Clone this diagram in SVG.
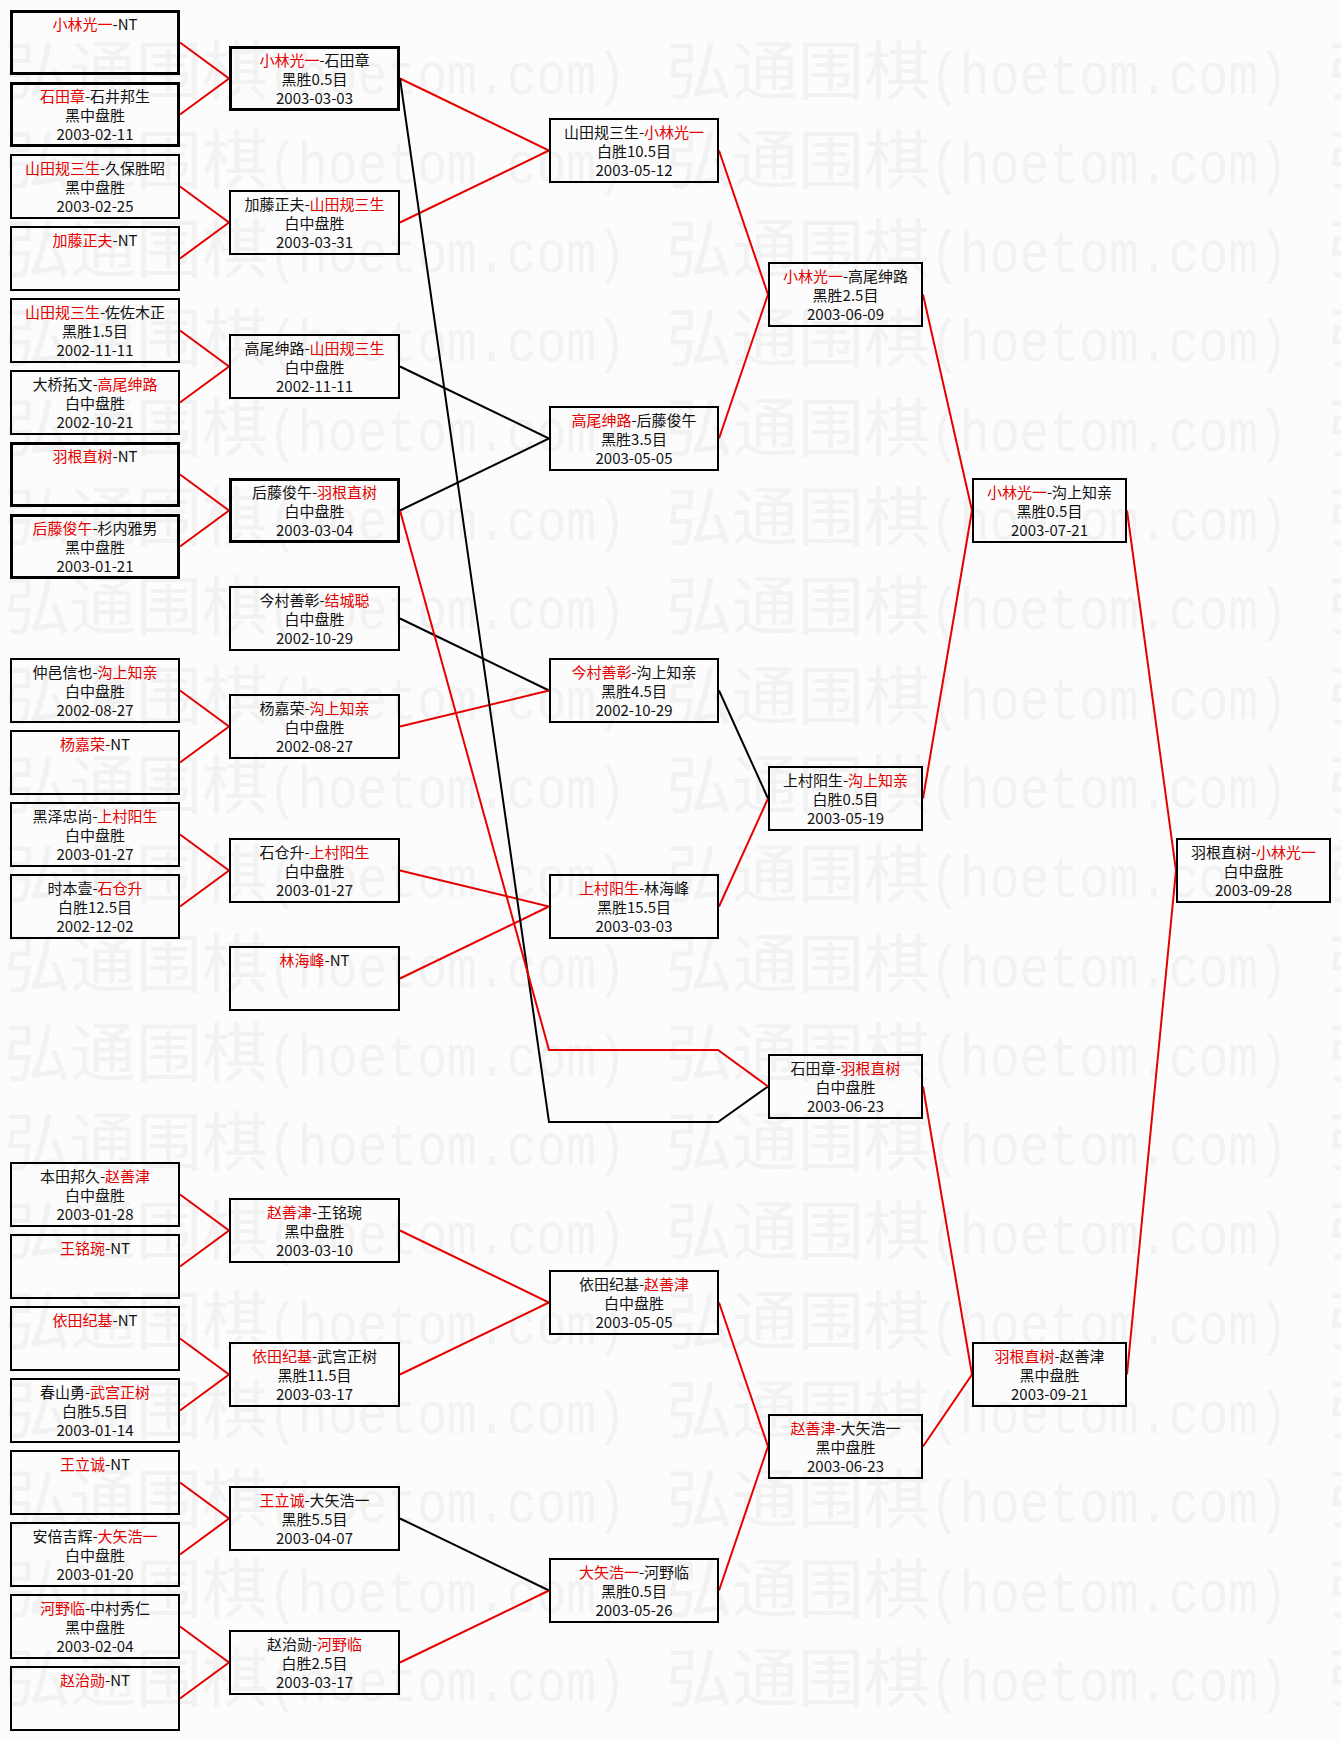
<svg xmlns="http://www.w3.org/2000/svg" xmlns:xlink="http://www.w3.org/1999/xlink" width="1341" height="1741" viewBox="0 0 1341 1741">
<style>
.bg{fill:#fcfcfc}
.wc{font-family:"Noto Sans CJK SC",sans-serif;font-size:64px;fill:#f2f2f2}
.wl{font-family:"Liberation Mono",monospace;font-size:60px;fill:#f2f2f2}
.b{fill:none;stroke:#000;stroke-width:2}
.bt{fill:none;stroke:#000;stroke-width:3}
.t{font-family:"Noto Sans CJK SC",sans-serif;font-size:15px;fill:#111;text-anchor:middle}
.r{fill:#e40000}
.lr{fill:none;stroke:#e60000;stroke-width:2}
.lk{fill:none;stroke:#000;stroke-width:2}
</style>
<defs>
<g id="wmrow">
<text class="wc" x="4" y="93.5" textLength="264" lengthAdjust="spacingAndGlyphs">弘通围棋</text>
<text class="wl" x="268" y="93.5" textLength="358" lengthAdjust="spacingAndGlyphs">(hoetom.com)</text>
<text class="wc" x="666" y="93.5" textLength="264" lengthAdjust="spacingAndGlyphs">弘通围棋</text>
<text class="wl" x="930" y="93.5" textLength="358" lengthAdjust="spacingAndGlyphs">(hoetom.com)</text>
<text class="wc" x="1328" y="93.5">弘</text>
</g>
</defs>
<rect class="bg" x="0" y="0" width="1341" height="1741"/>
<g id="watermark">
<use xlink:href="#wmrow" y="0"/>
<use xlink:href="#wmrow" y="89.3"/>
<use xlink:href="#wmrow" y="178.6"/>
<use xlink:href="#wmrow" y="267.9"/>
<use xlink:href="#wmrow" y="357.2"/>
<use xlink:href="#wmrow" y="446.5"/>
<use xlink:href="#wmrow" y="535.8"/>
<use xlink:href="#wmrow" y="625.1"/>
<use xlink:href="#wmrow" y="714.4"/>
<use xlink:href="#wmrow" y="803.7"/>
<use xlink:href="#wmrow" y="893"/>
<use xlink:href="#wmrow" y="982.3"/>
<use xlink:href="#wmrow" y="1071.6"/>
<use xlink:href="#wmrow" y="1160.9"/>
<use xlink:href="#wmrow" y="1250.2"/>
<use xlink:href="#wmrow" y="1339.5"/>
<use xlink:href="#wmrow" y="1428.8"/>
<use xlink:href="#wmrow" y="1518.1"/>
<use xlink:href="#wmrow" y="1607.4"/>
</g>
<g id="connectors">
<path class="lr" d="M180 42.5L229 78.5L180 114.5"/>
<path class="lr" d="M180 186.5L229 222.5L180 258.5"/>
<path class="lr" d="M180 330.5L229 366.5L180 402.5"/>
<path class="lr" d="M180 474.5L229 510.5L180 546.5"/>
<path class="lr" d="M180 690.5L229 726.5L180 762.5"/>
<path class="lr" d="M180 834.5L229 870.5L180 906.5"/>
<path class="lr" d="M180 1194.5L229 1230.5L180 1266.5"/>
<path class="lr" d="M180 1338.5L229 1374.5L180 1410.5"/>
<path class="lr" d="M180 1482.5L229 1518.5L180 1554.5"/>
<path class="lr" d="M180 1626.5L229 1662.5L180 1698.5"/>
<path class="lr" d="M400 78.5L549 150.5L400 222.5"/>
<path class="lk" d="M400 366.5L549 438.5L400 510.5"/>
<path class="lk" d="M400 618.5L549 690.5"/>
<path class="lr" d="M400 726.5L549 690.5"/>
<path class="lr" d="M400 870.5L549 906.5L400 978.5"/>
<path class="lr" d="M400 1230.5L549 1302.5L400 1374.5"/>
<path class="lk" d="M400 1518.5L549 1590.5"/>
<path class="lr" d="M400 1662.5L549 1590.5"/>
<path class="lk" d="M400 78.5L549 1122L718 1122L768 1086.5"/>
<path class="lr" d="M400 510.5L549 1050L718 1050L768 1086.5"/>
<path class="lr" d="M719 150.5L768 294.5L719 438.5"/>
<path class="lk" d="M719 690.5L768 798.5"/>
<path class="lr" d="M719 906.5L768 798.5"/>
<path class="lr" d="M719 1302.5L768 1446.5L719 1590.5"/>
<path class="lr" d="M923 294.5L972 510.5L923 798.5"/>
<path class="lr" d="M923 1086.5L972 1374.5L923 1446.5"/>
<path class="lr" d="M1127 510.5L1176 870.5L1127 1374.5"/>
</g>
<g id="round1">
<g id="n-r1-0"><rect class="bt" x="11.5" y="11.5" width="167" height="62"/><text class="t" x="95" y="30"><tspan class="r">小林光一</tspan>-NT</text></g>
<g id="n-r1-1"><rect class="bt" x="11.5" y="83.5" width="167" height="62"/><text class="t" x="95" y="102"><tspan class="r">石田章</tspan>-石井邦生</text><text class="t" x="95" y="121">黑中盘胜</text><text class="t" x="95" y="140">2003-02-11</text></g>
<g id="n-r1-2"><rect class="b" x="11" y="155" width="168" height="63"/><text class="t" x="95" y="174"><tspan class="r">山田规三生</tspan>-久保胜昭</text><text class="t" x="95" y="193">黑中盘胜</text><text class="t" x="95" y="212">2003-02-25</text></g>
<g id="n-r1-3"><rect class="b" x="11" y="227" width="168" height="63"/><text class="t" x="95" y="246"><tspan class="r">加藤正夫</tspan>-NT</text></g>
<g id="n-r1-4"><rect class="b" x="11" y="299" width="168" height="63"/><text class="t" x="95" y="318"><tspan class="r">山田规三生</tspan>-佐佐木正</text><text class="t" x="95" y="337">黑胜1.5目</text><text class="t" x="95" y="356">2002-11-11</text></g>
<g id="n-r1-5"><rect class="b" x="11" y="371" width="168" height="63"/><text class="t" x="95" y="390">大桥拓文-<tspan class="r">高尾绅路</tspan></text><text class="t" x="95" y="409">白中盘胜</text><text class="t" x="95" y="428">2002-10-21</text></g>
<g id="n-r1-6"><rect class="bt" x="11.5" y="443.5" width="167" height="62"/><text class="t" x="95" y="462"><tspan class="r">羽根直树</tspan>-NT</text></g>
<g id="n-r1-7"><rect class="bt" x="11.5" y="515.5" width="167" height="62"/><text class="t" x="95" y="534"><tspan class="r">后藤俊午</tspan>-杉内雅男</text><text class="t" x="95" y="553">黑中盘胜</text><text class="t" x="95" y="572">2003-01-21</text></g>
<g id="n-r1-9"><rect class="b" x="11" y="659" width="168" height="63"/><text class="t" x="95" y="678">仲邑信也-<tspan class="r">沟上知亲</tspan></text><text class="t" x="95" y="697">白中盘胜</text><text class="t" x="95" y="716">2002-08-27</text></g>
<g id="n-r1-10"><rect class="b" x="11" y="731" width="168" height="63"/><text class="t" x="95" y="750"><tspan class="r">杨嘉荣</tspan>-NT</text></g>
<g id="n-r1-11"><rect class="b" x="11" y="803" width="168" height="63"/><text class="t" x="95" y="822">黑泽忠尚-<tspan class="r">上村阳生</tspan></text><text class="t" x="95" y="841">白中盘胜</text><text class="t" x="95" y="860">2003-01-27</text></g>
<g id="n-r1-12"><rect class="b" x="11" y="875" width="168" height="63"/><text class="t" x="95" y="894">时本壹-<tspan class="r">石仓升</tspan></text><text class="t" x="95" y="913">白胜12.5目</text><text class="t" x="95" y="932">2002-12-02</text></g>
<g id="n-r1-16"><rect class="b" x="11" y="1163" width="168" height="63"/><text class="t" x="95" y="1182">本田邦久-<tspan class="r">赵善津</tspan></text><text class="t" x="95" y="1201">白中盘胜</text><text class="t" x="95" y="1220">2003-01-28</text></g>
<g id="n-r1-17"><rect class="b" x="11" y="1235" width="168" height="63"/><text class="t" x="95" y="1254"><tspan class="r">王铭琬</tspan>-NT</text></g>
<g id="n-r1-18"><rect class="b" x="11" y="1307" width="168" height="63"/><text class="t" x="95" y="1326"><tspan class="r">依田纪基</tspan>-NT</text></g>
<g id="n-r1-19"><rect class="b" x="11" y="1379" width="168" height="63"/><text class="t" x="95" y="1398">春山勇-<tspan class="r">武宫正树</tspan></text><text class="t" x="95" y="1417">白胜5.5目</text><text class="t" x="95" y="1436">2003-01-14</text></g>
<g id="n-r1-20"><rect class="b" x="11" y="1451" width="168" height="63"/><text class="t" x="95" y="1470"><tspan class="r">王立诚</tspan>-NT</text></g>
<g id="n-r1-21"><rect class="b" x="11" y="1523" width="168" height="63"/><text class="t" x="95" y="1542">安倍吉辉-<tspan class="r">大矢浩一</tspan></text><text class="t" x="95" y="1561">白中盘胜</text><text class="t" x="95" y="1580">2003-01-20</text></g>
<g id="n-r1-22"><rect class="b" x="11" y="1595" width="168" height="63"/><text class="t" x="95" y="1614"><tspan class="r">河野临</tspan>-中村秀仁</text><text class="t" x="95" y="1633">黑中盘胜</text><text class="t" x="95" y="1652">2003-02-04</text></g>
<g id="n-r1-23"><rect class="b" x="11" y="1667" width="168" height="63"/><text class="t" x="95" y="1686"><tspan class="r">赵治勋</tspan>-NT</text></g>
</g>
<g id="round2">
<g id="n-r2-0"><rect class="bt" x="230.5" y="47.5" width="168" height="62"/><text class="t" x="314.5" y="66"><tspan class="r">小林光一</tspan>-石田章</text><text class="t" x="314.5" y="85">黑胜0.5目</text><text class="t" x="314.5" y="104">2003-03-03</text></g>
<g id="n-r2-1"><rect class="b" x="230" y="191" width="169" height="63"/><text class="t" x="314.5" y="210">加藤正夫-<tspan class="r">山田规三生</tspan></text><text class="t" x="314.5" y="229">白中盘胜</text><text class="t" x="314.5" y="248">2003-03-31</text></g>
<g id="n-r2-2"><rect class="b" x="230" y="335" width="169" height="63"/><text class="t" x="314.5" y="354">高尾绅路-<tspan class="r">山田规三生</tspan></text><text class="t" x="314.5" y="373">白中盘胜</text><text class="t" x="314.5" y="392">2002-11-11</text></g>
<g id="n-r2-3"><rect class="bt" x="230.5" y="479.5" width="168" height="62"/><text class="t" x="314.5" y="498">后藤俊午-<tspan class="r">羽根直树</tspan></text><text class="t" x="314.5" y="517">白中盘胜</text><text class="t" x="314.5" y="536">2003-03-04</text></g>
<g id="n-r2-4"><rect class="b" x="230" y="587" width="169" height="63"/><text class="t" x="314.5" y="606">今村善彰-<tspan class="r">结城聪</tspan></text><text class="t" x="314.5" y="625">白中盘胜</text><text class="t" x="314.5" y="644">2002-10-29</text></g>
<g id="n-r2-5"><rect class="b" x="230" y="695" width="169" height="63"/><text class="t" x="314.5" y="714">杨嘉荣-<tspan class="r">沟上知亲</tspan></text><text class="t" x="314.5" y="733">白中盘胜</text><text class="t" x="314.5" y="752">2002-08-27</text></g>
<g id="n-r2-6"><rect class="b" x="230" y="839" width="169" height="63"/><text class="t" x="314.5" y="858">石仓升-<tspan class="r">上村阳生</tspan></text><text class="t" x="314.5" y="877">白中盘胜</text><text class="t" x="314.5" y="896">2003-01-27</text></g>
<g id="n-r2-7"><rect class="b" x="230" y="947" width="169" height="63"/><text class="t" x="314.5" y="966"><tspan class="r">林海峰</tspan>-NT</text></g>
<g id="n-r2-8"><rect class="b" x="230" y="1199" width="169" height="63"/><text class="t" x="314.5" y="1218"><tspan class="r">赵善津</tspan>-王铭琬</text><text class="t" x="314.5" y="1237">黑中盘胜</text><text class="t" x="314.5" y="1256">2003-03-10</text></g>
<g id="n-r2-9"><rect class="b" x="230" y="1343" width="169" height="63"/><text class="t" x="314.5" y="1362"><tspan class="r">依田纪基</tspan>-武宫正树</text><text class="t" x="314.5" y="1381">黑胜11.5目</text><text class="t" x="314.5" y="1400">2003-03-17</text></g>
<g id="n-r2-10"><rect class="b" x="230" y="1487" width="169" height="63"/><text class="t" x="314.5" y="1506"><tspan class="r">王立诚</tspan>-大矢浩一</text><text class="t" x="314.5" y="1525">黑胜5.5目</text><text class="t" x="314.5" y="1544">2003-04-07</text></g>
<g id="n-r2-11"><rect class="b" x="230" y="1631" width="169" height="63"/><text class="t" x="314.5" y="1650">赵治勋-<tspan class="r">河野临</tspan></text><text class="t" x="314.5" y="1669">白胜2.5目</text><text class="t" x="314.5" y="1688">2003-03-17</text></g>
</g>
<g id="round3">
<g id="n-r3-0"><rect class="b" x="550" y="119" width="168" height="63"/><text class="t" x="634" y="138">山田规三生-<tspan class="r">小林光一</tspan></text><text class="t" x="634" y="157">白胜10.5目</text><text class="t" x="634" y="176">2003-05-12</text></g>
<g id="n-r3-1"><rect class="b" x="550" y="407" width="168" height="63"/><text class="t" x="634" y="426"><tspan class="r">高尾绅路</tspan>-后藤俊午</text><text class="t" x="634" y="445">黑胜3.5目</text><text class="t" x="634" y="464">2003-05-05</text></g>
<g id="n-r3-2"><rect class="b" x="550" y="659" width="168" height="63"/><text class="t" x="634" y="678"><tspan class="r">今村善彰</tspan>-沟上知亲</text><text class="t" x="634" y="697">黑胜4.5目</text><text class="t" x="634" y="716">2002-10-29</text></g>
<g id="n-r3-3"><rect class="b" x="550" y="875" width="168" height="63"/><text class="t" x="634" y="894"><tspan class="r">上村阳生</tspan>-林海峰</text><text class="t" x="634" y="913">黑胜15.5目</text><text class="t" x="634" y="932">2003-03-03</text></g>
<g id="n-r3-4"><rect class="b" x="550" y="1271" width="168" height="63"/><text class="t" x="634" y="1290">依田纪基-<tspan class="r">赵善津</tspan></text><text class="t" x="634" y="1309">白中盘胜</text><text class="t" x="634" y="1328">2003-05-05</text></g>
<g id="n-r3-5"><rect class="b" x="550" y="1559" width="168" height="63"/><text class="t" x="634" y="1578"><tspan class="r">大矢浩一</tspan>-河野临</text><text class="t" x="634" y="1597">黑胜0.5目</text><text class="t" x="634" y="1616">2003-05-26</text></g>
</g>
<g id="round4">
<g id="n-r4-0"><rect class="b" x="769" y="263" width="153" height="63"/><text class="t" x="845.5" y="282"><tspan class="r">小林光一</tspan>-高尾绅路</text><text class="t" x="845.5" y="301">黑胜2.5目</text><text class="t" x="845.5" y="320">2003-06-09</text></g>
<g id="n-r4-1"><rect class="b" x="769" y="767" width="153" height="63"/><text class="t" x="845.5" y="786">上村阳生-<tspan class="r">沟上知亲</tspan></text><text class="t" x="845.5" y="805">白胜0.5目</text><text class="t" x="845.5" y="824">2003-05-19</text></g>
<g id="n-r4-2"><rect class="b" x="769" y="1055" width="153" height="63"/><text class="t" x="845.5" y="1074">石田章-<tspan class="r">羽根直树</tspan></text><text class="t" x="845.5" y="1093">白中盘胜</text><text class="t" x="845.5" y="1112">2003-06-23</text></g>
<g id="n-r4-3"><rect class="b" x="769" y="1415" width="153" height="63"/><text class="t" x="845.5" y="1434"><tspan class="r">赵善津</tspan>-大矢浩一</text><text class="t" x="845.5" y="1453">黑中盘胜</text><text class="t" x="845.5" y="1472">2003-06-23</text></g>
</g>
<g id="round5">
<g id="n-r5-0"><rect class="b" x="973" y="479" width="153" height="63"/><text class="t" x="1049.5" y="498"><tspan class="r">小林光一</tspan>-沟上知亲</text><text class="t" x="1049.5" y="517">黑胜0.5目</text><text class="t" x="1049.5" y="536">2003-07-21</text></g>
<g id="n-r5-1"><rect class="b" x="973" y="1343" width="153" height="63"/><text class="t" x="1049.5" y="1362"><tspan class="r">羽根直树</tspan>-赵善津</text><text class="t" x="1049.5" y="1381">黑中盘胜</text><text class="t" x="1049.5" y="1400">2003-09-21</text></g>
</g>
<g id="final">
<g id="n-r6-0"><rect class="b" x="1177" y="839" width="153" height="63"/><text class="t" x="1253.5" y="858">羽根直树-<tspan class="r">小林光一</tspan></text><text class="t" x="1253.5" y="877">白中盘胜</text><text class="t" x="1253.5" y="896">2003-09-28</text></g>
</g>
</svg>
